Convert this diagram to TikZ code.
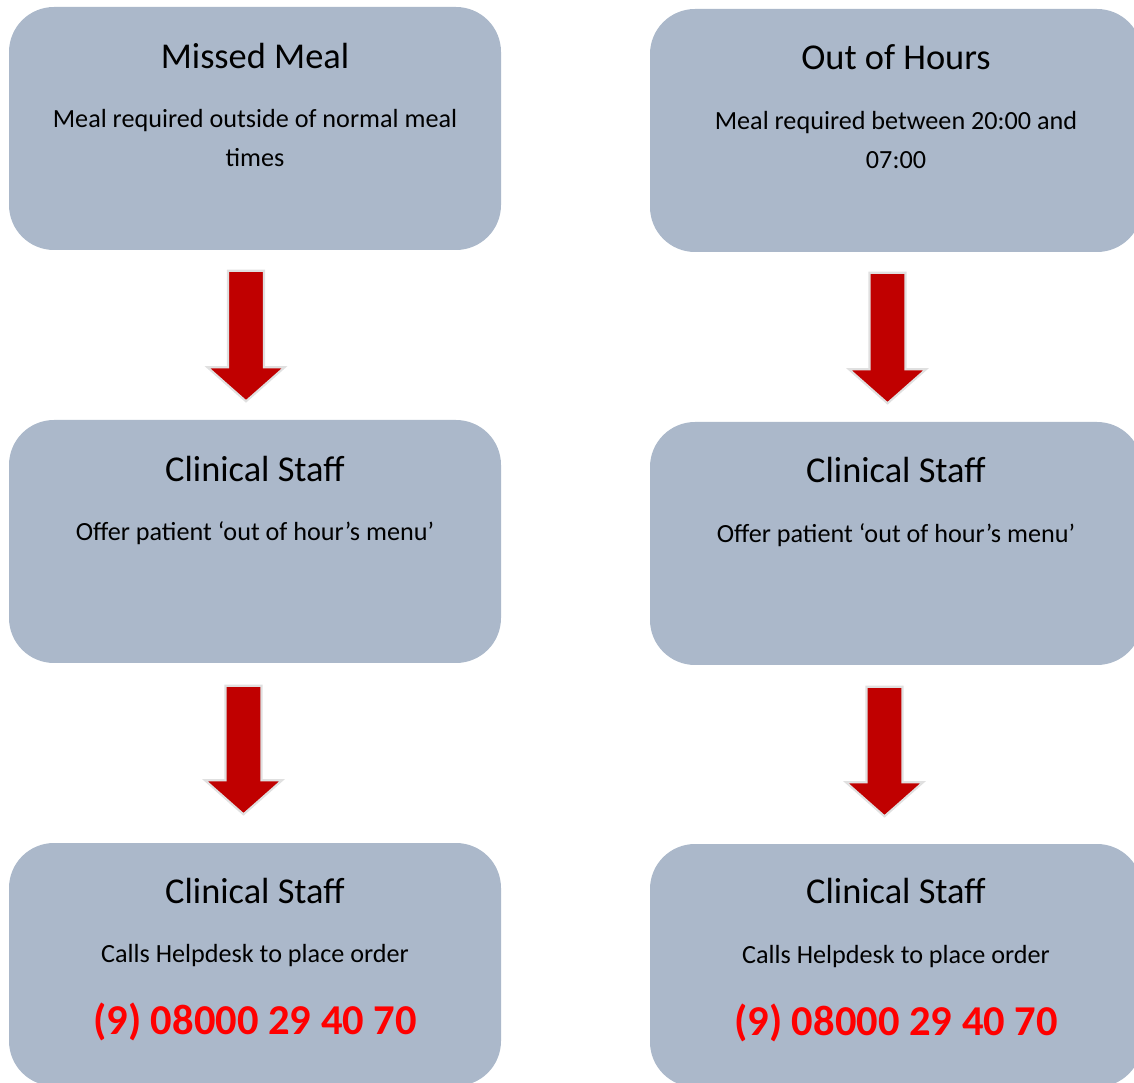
\documentclass[tikz,border=0pt]{standalone}
\usepackage{fontspec}
\setmainfont{Carlito}
\usetikzlibrary{calc}

\definecolor{boxblue}{HTML}{ABB8CA}
\definecolor{arrowred}{HTML}{C00000}
\definecolor{phonered}{HTML}{FF0000}

% block arrow from #1 (top of shaft) down to #2 (tip)
\newcommand{\blockarrow}[2]{%
	\draw[blockarrow] ($(#1)+(-0.18,0)$) -- ($(#1)+(0.18,0)$) -- ($(#2)+(0.18,0.34)$) -- ($(#2)+(0.385,0.34)$) -- (#2) -- ($(#2)+(-0.385,0.34)$) -- ($(#2)+(-0.18,0.34)$) -- cycle;}

\begin{document}
\begin{tikzpicture}[
	box/.style={fill=boxblue,rounded corners=0.45cm,minimum width=4.92cm,minimum height=2.43cm,inner sep=0pt},
	boxtitle/.style={font=\fontsize{10.35}{12.5}\selectfont},
	boxtext/.style={font=\fontsize{7.45}{11.1}\selectfont,align=center,anchor=north,inner sep=0pt},
	phone/.style={font=\fontsize{12.1}{14}\selectfont\bfseries,text=phonered},
	blockarrow/.style={fill=arrowred,draw=black!12,line width=0.6pt}
	]
	\useasboundingbox (0,0) rectangle (11.34,-10.83);
	\clip (0,0) rectangle (11.34,-10.83);
	
	\node[box] (mm)  at (2.55,-1.285) {};	%Missed Meal
	\node[box] (cs1) at (2.55,-5.415) {};
	\node[box] (cs2) at (2.55,-9.645) {};
	%
	\node[box] (oh)  at (8.96,-1.305) {};	%Out of Hours
	\node[box] (cs3) at (8.96,-5.435) {};
	\node[box] (cs4) at (8.96,-9.655) {};
	
	\node[boxtitle] (mmtitle) at ($(mm.north)+(0,-0.50)$) {Missed Meal};
	\node[boxtext] (mmtext) at ($(mm.north)+(0,-1.02)$) {Meal required outside of normal meal \\ times};
	\node[boxtitle] (cs1title) at ($(cs1.north)+(0,-0.50)$) {Clinical Staff};
	\node[boxtext] (cs1text) at ($(cs1.north)+(0,-1.02)$) {Offer patient ‘out of hour’s menu’};
	\node[boxtitle] (cs2title) at ($(cs2.north)+(0,-0.49)$) {Clinical Staff};
	\node[boxtext] (cs2text) at ($(cs2.north)+(0,-1.01)$) {Calls Helpdesk to place order};
	\node[phone] (cs2phone) at ($(cs2.north)+(0,-1.80)$) {(9) 08000 29 40 70};
	
	\node[boxtitle] (ohtitle) at ($(oh.north)+(0,-0.49)$) {Out of Hours};
	\node[boxtext] (ohtext) at ($(oh.north)+(0,-1.02)$) {Meal required between 20:00 and \\ 07:00};
	\node[boxtitle] (cs3title) at ($(cs3.north)+(0,-0.49)$) {Clinical Staff};
	\node[boxtext] (cs3text) at ($(cs3.north)+(0,-1.02)$) {Offer patient ‘out of hour’s menu’};
	\node[boxtitle] (cs4title) at ($(cs4.north)+(0,-0.48)$) {Clinical Staff};
	\node[boxtext] (cs4text) at ($(cs4.north)+(0,-1.01)$) {Calls Helpdesk to place order};
	\node[phone] (cs4phone) at ($(cs4.north)+(0,-1.80)$) {(9) 08000 29 40 70};
	
	\coordinate (a1top) at ($(mm.south)+(-0.09,-0.20)$);	\coordinate (a1tip) at ($(cs1.north)+(-0.09,0.18)$);
	\coordinate (a2top) at ($(cs1.south)+(-0.115,-0.22)$);	\coordinate (a2tip) at ($(cs2.north)+(-0.115,0.28)$);
	\coordinate (a3top) at ($(oh.south)+(-0.085,-0.20)$);	\coordinate (a3tip) at ($(cs3.north)+(-0.085,0.18)$);
	\coordinate (a4top) at ($(cs3.south)+(-0.115,-0.21)$);	\coordinate (a4tip) at ($(cs4.north)+(-0.115,0.27)$);
	
	\blockarrow{a1top}{a1tip}	\blockarrow{a2top}{a2tip}	%left
	\blockarrow{a3top}{a3tip}	\blockarrow{a4top}{a4tip}	%right
\end{tikzpicture}
\end{document}
